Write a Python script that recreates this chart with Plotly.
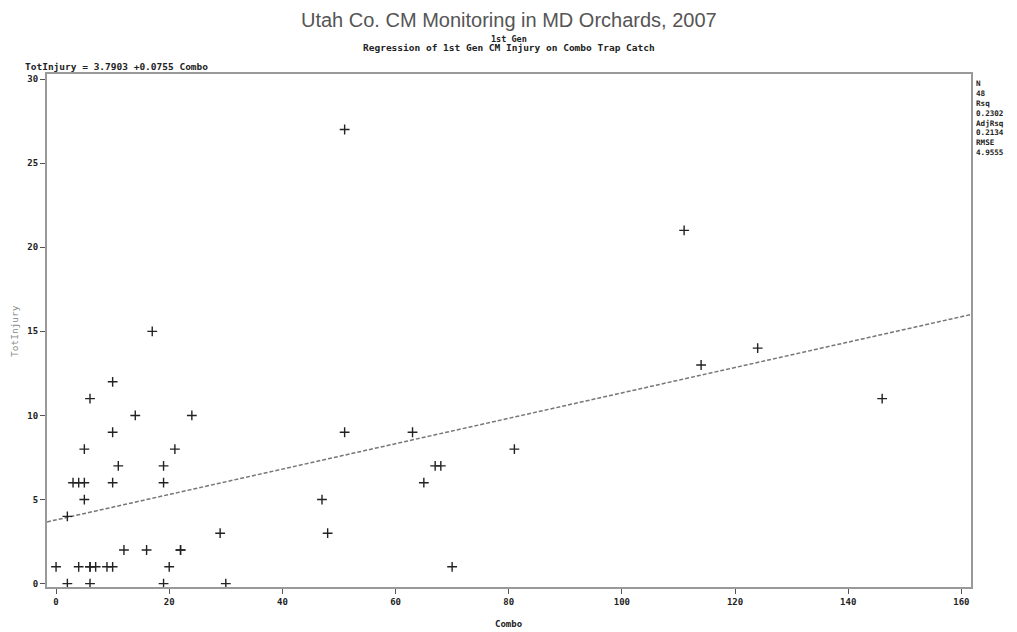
import plotly.graph_objects as go

# Codling moth trap catch (Combo lure) vs. total fruit injury, 1st generation
combo = [0, 2, 2, 3, 4, 4, 5, 5, 5, 6, 6, 6, 6, 7, 9, 10, 10, 10, 10, 11, 12, 14,
         16, 17, 19, 19, 19, 20, 21, 22, 22, 24, 29, 30, 47, 48, 51, 51, 63, 65,
         67, 68, 70, 81, 111, 114, 124, 146]
tot_injury = [1, 0, 4, 6, 1, 6, 6, 8, 5, 11, 1, 1, 0, 1, 1, 1, 9, 6, 12, 7, 2, 10,
              2, 15, 6, 0, 7, 1, 8, 2, 2, 10, 3, 0, 5, 3, 27, 9, 9, 6,
              7, 7, 1, 8, 21, 13, 14, 11]

# Fitted regression (SAS PROC REG output)
intercept = 3.7903
slope = 0.0755
stat_labels = ["N", "Rsq", "AdjRsq", "RMSE"]
stat_values = ["48", "0.2302", "0.2134", "4.9555"]

x_ticks = [0, 20, 40, 60, 80, 100, 120, 140, 160]
y_ticks = [0, 5, 10, 15, 20, 25, 30]
x_range = [-1.6, 161.7]
y_range = [-0.2, 30.3]

W, H = 1017, 632
L, R, T, B = 47, 46, 74, 45
plot_w = W - L - R
plot_h = H - T - B


def px_x(px):
    return (px - L) / plot_w


def px_y(py):
    return (H - B - py) / plot_h


fit_x = [x_range[0], x_range[1]]
fit_y = [intercept + slope * v for v in fit_x]

MONO = "DejaVu Sans Mono"

fig = go.Figure()
fig.add_trace(go.Scatter(
    x=fit_x, y=fit_y, mode="lines",
    line=dict(color="#777", width=1.5, dash="4px,2px"),
    hoverinfo="skip", showlegend=False,
))
fig.add_trace(go.Scatter(
    x=combo, y=tot_injury, mode="markers",
    marker=dict(symbol="cross-thin", size=7, line=dict(color="#222", width=1.4)),
    showlegend=False,
))


def note(text, px, py, size=9, color="#222", anchor="left", angle=0,
         family=MONO, yanchor="middle"):
    return dict(text=text, x=px_x(px), xref="paper", y=px_y(py), yref="paper",
                showarrow=False, xanchor=anchor, yanchor=yanchor, textangle=angle,
                align="left", borderpad=0,
                font=dict(family=family, size=size, color=color))


annotations = [
    note("Utah Co. CM Monitoring in MD Orchards, 2007", W / 2, 20, size=20,
         color="#555", anchor="center", family="Liberation Sans"),
    note("<b>1st Gen</b>", W / 2, 39, size=8.5, anchor="center"),
    note("<b>Regression of 1st Gen CM Injury on Combo Trap Catch</b>", W / 2, 48,
         size=9.5, anchor="center"),
    note("<b>TotInjury = %.4f +%.4f Combo</b>" % (intercept, slope), 24, 66, size=9.5),
    note("<b>Combo</b>", W / 2, 624, size=9, anchor="center"),
    note("TotInjury", 14, 331, size=9.5, color="#888", anchor="center", angle=-90),
]

# Fit statistics stacked to the right of the frame
stat_lines = []
for lab, val in zip(stat_labels, stat_values):
    stat_lines += ["<b>%s</b>" % lab, "<b>%s</b>" % val]
annotations.append(note("<br>".join(stat_lines), 975, 78, size=7.6, yanchor="top"))

axis_common = dict(
    showgrid=False, zeroline=False, showline=True, mirror=True,
    linecolor="#999", linewidth=2, ticks="outside", ticklen=5,
    tickcolor="#555", tickwidth=1, tickfont=dict(family=MONO, size=9, color="#222"),
)

fig.update_layout(
    width=W, height=H,
    margin=dict(l=L, r=R, t=T, b=B),
    paper_bgcolor="white", plot_bgcolor="white",
    xaxis=dict(range=x_range, tickvals=x_ticks,
               ticktext=["<b>%d</b>" % v for v in x_ticks], **axis_common),
    yaxis=dict(range=y_range, tickvals=y_ticks,
               ticktext=["<b>%d</b>" % v for v in y_ticks], **axis_common),
    annotations=annotations,
)

fig.write_html("out.html")
